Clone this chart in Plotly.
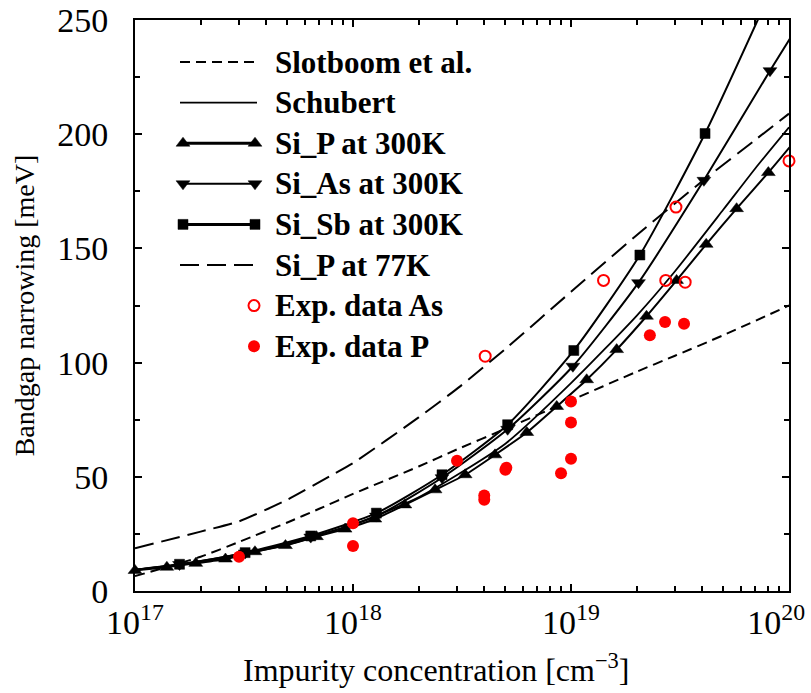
import plotly.graph_objects as go

# ---------------- data (impurity concentration in cm^-3, bandgap narrowing in meV) ----------------
SLOTBOOM_N = [1e17, 2e17, 3e17, 5e17, 7e17, 1e18, 2e18, 3e18, 5e18, 1e19, 2e19, 3e19, 5e19, 1e20]
SLOTBOOM_BGN = [6.5, 15.0, 21.5, 30.0, 36.0, 42.5, 54.5, 62.0, 71.0, 83.5, 96.0, 103.0, 112.0, 125.0]

SCHUBERT_N = [1e17, 2e17, 5e17, 1e18, 2e18, 5e18, 1e19, 2e19, 3e19, 5e19, 7e19, 1e20]
SCHUBERT_BGN = [9.3, 12.6, 20.3, 29.0, 41.0, 64.5, 91.0, 120.5, 140.0, 167.0, 185.0, 203.0]

SI_P_300K_N = [1.0e17, 1.4e17, 1.9e17, 2.6e17, 3.55e17, 4.9e17, 6.8e17, 9.2e17, 1.26e18, 1.73e18,
               2.38e18, 3.27e18, 4.48e18, 6.27e18, 8.6e18, 1.18e19, 1.62e19, 2.22e19, 3.05e19,
               4.17e19, 5.75e19, 8.04e19, 1.1e20]
SI_P_300K_BGN = [9.0, 10.4, 12.1, 14.0, 17.2, 19.9, 23.8, 27.1, 31.5, 37.7,
                 44.3, 50.9, 59.6, 69.4, 80.8, 92.5, 105.7, 120.3, 136.0,
                 151.8, 167.4, 183.2, 198.7]

SI_AS_300K_N = [1.0e17, 1.6e17, 3.2e17, 6.4e17, 1.28e18, 2.56e18, 5.12e18, 1.02e19, 2.04e19,
                4.07e19, 8.18e19, 1.64e20]
SI_AS_300K_BGN = [9.2, 11.6, 16.6, 23.6, 32.8, 49.6, 70.8, 98.4, 135.0, 179.8, 227.8, 274.0]

SI_SB_300K_N = [1.0e17, 1.6e17, 3.2e17, 6.4e17, 1.28e18, 2.56e18, 5.12e18, 1.03e19, 2.07e19,
                4.12e19, 8.2e19]
SI_SB_300K_BGN = [9.3, 11.7, 16.8, 24.1, 34.1, 50.9, 72.8, 105.3, 147.1, 200.3, 262.0]

SI_P_77K_N = [1e17, 2e17, 3e17, 5e17, 7.8e17, 1e18, 2e18, 3.1e18, 5e18, 1e19, 2.15e19, 4.07e19, 7e19, 1e20]
SI_P_77K_BGN = [18.7, 26.0, 30.5, 40.0, 50.2, 56.0, 76.0, 89.6, 106.0, 131.0, 158.3, 180.0, 197.5, 209.0]

EXP_AS_N = [4.04e18, 1.41e19, 2.72e19, 3.03e19, 3.34e19, 1.0e20]
EXP_AS_BGN = [102.8, 136.0, 136.0, 168.1, 135.2, 188.3]

EXP_P_N = [3.0e17, 1.0e18, 1.0e18, 3.0e18, 4.0e18, 4.0e18, 5.0e18, 5.05e18, 9.0e18,
           1.0e19, 1.0e19, 1.0e19, 2.3e19, 2.7e19, 3.3e19]
EXP_P_BGN = [15.0, 29.7, 19.7, 57.0, 40.0, 41.8, 53.1, 54.0, 51.6,
             57.9, 73.8, 83.0, 112.0, 117.8, 117.0]

X_DECADES = [17, 18, 19, 20]
Y_LABELS = [0, 50, 100, 150, 200, 250]

X_TITLE = "Impurity concentration [cm<sup>−3</sup>]"
Y_TITLE = "Bandgap narrowing [meV]"

# ---------------- styling ----------------
SERIF = "Liberation Serif, Times New Roman, serif"
BLACK = "#000000"
RED = "#ff0000"
N_MAX = 1e20

series = [
    dict(name="Slotboom et al.", x=SLOTBOOM_N, y=SLOTBOOM_BGN, mode="lines",
         line=dict(color=BLACK, width=2, dash="10px,6px"), legend_width=2),
    dict(name="Schubert", x=SCHUBERT_N, y=SCHUBERT_BGN, mode="lines",
         line=dict(color=BLACK, width=1.8), legend_width=1.8),
    dict(name="Si_P at 300K", x=SI_P_300K_N, y=SI_P_300K_BGN, mode="lines+markers",
         line=dict(color=BLACK, width=2), symbol="triangle-up", size=12, first=0, legend_width=3),
    dict(name="Si_As at 300K", x=SI_AS_300K_N, y=SI_AS_300K_BGN, mode="lines+markers",
         line=dict(color=BLACK, width=2), symbol="triangle-down", size=12, first=1, legend_width=2),
    dict(name="Si_Sb at 300K", x=SI_SB_300K_N, y=SI_SB_300K_BGN, mode="lines+markers",
         line=dict(color=BLACK, width=2), symbol="square", size=10, first=1, legend_width=3),
    dict(name="Si_P at 77K", x=SI_P_77K_N, y=SI_P_77K_BGN, mode="lines",
         line=dict(color=BLACK, width=2, dash="19px,8px"), legend_width=2),
]

fig = go.Figure()

for s in series:
    kw = dict(x=s["x"], y=s["y"], mode=s["mode"], name=s["name"], showlegend=False,
              line=dict(s["line"], shape="spline", smoothing=0.6), cliponaxis=False)
    if "symbol" in s:
        sizes = [s["size"] if (i >= s["first"] and n <= N_MAX) else 0 for i, n in enumerate(s["x"])]
        kw["marker"] = dict(symbol=s["symbol"], size=sizes, color=BLACK, opacity=1,
                            line=dict(width=0.5, color=BLACK))
    fig.add_trace(go.Scatter(**kw))

exp_series = [
    dict(name="Exp. data As", x=EXP_AS_N, y=EXP_AS_BGN,
         marker=dict(symbol="circle-open", size=11, color=RED, line=dict(width=2, color=RED))),
    dict(name="Exp. data P", x=EXP_P_N, y=EXP_P_BGN,
         marker=dict(symbol="circle", size=12, color=RED, line=dict(width=0))),
]
for s in exp_series:
    fig.add_trace(go.Scatter(x=s["x"], y=s["y"], mode="markers", name=s["name"],
                             marker=s["marker"], showlegend=False, cliponaxis=False))

# ---------------- legend panel (drawn on a pixel-scaled overlay axis) ----------------
PLOT_W, PLOT_H = 654, 571
ROW0, ROW_STEP = 42, 40.6
LINE_X0, LINE_X1 = 45, 122
MARK_X0, MARK_X1 = 48, 120
TEXT_X = 138

legend_rows = series + exp_series
for i, s in enumerate(legend_rows):
    ry = ROW0 + ROW_STEP * i
    if "line" in s:
        fig.add_trace(go.Scatter(x=[LINE_X0, LINE_X1], y=[ry, ry], mode="lines",
                                 line=dict(s["line"], width=s["legend_width"]),
                                 xaxis="x2", yaxis="y2", showlegend=False, hoverinfo="skip"))
        if "symbol" in s:
            fig.add_trace(go.Scatter(x=[MARK_X0, MARK_X1], y=[ry, ry], mode="markers",
                                     marker=dict(symbol=s["symbol"], size=s["size"], color=BLACK,
                                                 line=dict(width=0.5, color=BLACK)),
                                     xaxis="x2", yaxis="y2", showlegend=False,
                                     hoverinfo="skip", cliponaxis=False))
    else:
        fig.add_trace(go.Scatter(x=[MARK_X1 - 1], y=[ry], mode="markers", marker=s["marker"],
                                 xaxis="x2", yaxis="y2", showlegend=False,
                                 hoverinfo="skip", cliponaxis=False))
    fig.add_annotation(x=TEXT_X, y=ry, xref="x2", yref="y2", text="<b>%s</b>" % s["name"],
                       showarrow=False, xanchor="left", yanchor="middle",
                       font=dict(family=SERIF, size=31, color=BLACK))

# ---------------- ticks ----------------
x_tickvals = [10.0 ** d for d in X_DECADES]
x_ticktext = ["10<sup>%d</sup>" % d for d in X_DECADES]
# pad the right-most label so it stays inside the page
x_ticktext[-1] += "&nbsp;&nbsp;&nbsp;"

# unlabelled sub-ticks: 2..9 within each decade, and 25 meV between labels
x_minor = [m * 10.0 ** d for d in X_DECADES[:-1] for m in range(2, 10)]
y_minor = [v + 25 for v in Y_LABELS[:-1]]

# an invisible point anchors the overlay axes that carry the sub-ticks
fig.add_trace(go.Scatter(x=[SLOTBOOM_N[0]], y=[SLOTBOOM_BGN[0]], mode="markers",
                         marker=dict(opacity=0), xaxis="x3", yaxis="y3",
                         showlegend=False, hoverinfo="skip"))

axis_common = dict(showline=True, linewidth=2, linecolor=BLACK, mirror="ticks",
                   ticks="inside", tickwidth=1.8, tickcolor=BLACK, showgrid=False,
                   zeroline=False, automargin=False, ticklabeloverflow="allow",
                   tickfont=dict(family=SERIF, size=34, color=BLACK))
minor_common = dict(showline=False, mirror="ticks", ticks="inside", ticklen=5, tickwidth=1.5,
                    tickcolor=BLACK, showgrid=False, zeroline=False, automargin=False,
                    showticklabels=False, fixedrange=True)

fig.update_layout(
    width=811, height=693,
    margin=dict(l=135, r=22, t=20, b=102),
    paper_bgcolor="white", plot_bgcolor="white",
    showlegend=False,
    xaxis=dict(axis_common, type="log", range=[17, 20], tickmode="array",
               tickvals=x_tickvals, ticktext=x_ticktext, ticklen=7, ticklabelstandoff=0),
    yaxis=dict(axis_common, range=[0, 250], tickmode="array",
               tickvals=Y_LABELS, ticklen=7, ticklabelstandoff=18,
               title=dict(text=Y_TITLE, standoff=14,
                          font=dict(family=SERIF, size=28, color=BLACK))),
    xaxis2=dict(overlaying="x", range=[0, PLOT_W], visible=False, fixedrange=True),
    yaxis2=dict(overlaying="y", range=[PLOT_H, 0], visible=False, fixedrange=True),
    xaxis3=dict(minor_common, overlaying="x", type="log", range=[17, 20],
                tickmode="array", tickvals=x_minor),
    yaxis3=dict(minor_common, overlaying="y", range=[0, 250],
                tickmode="array", tickvals=y_minor),
)

# x-axis title, set slightly left of the plot centre as in the original layout
fig.add_annotation(text=X_TITLE, xref="paper", yref="paper", x=0.46, y=-0.135,
                   xanchor="center", yanchor="middle", showarrow=False,
                   font=dict(family=SERIF, size=32, color=BLACK))

fig.write_html("out.html")
